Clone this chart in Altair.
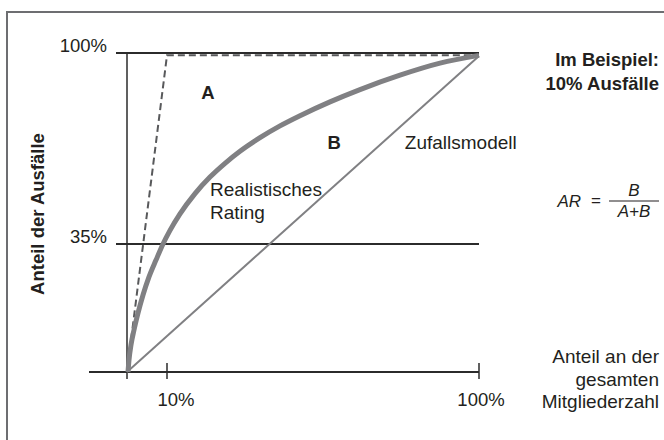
import altair as alt
import pandas as pd

# ---- data ----
curve_x = [0.25, 0.5, 1.0, 1.75, 2.75, 4.0, 5.5, 7.25, 9.0, 10.87, 13.75, 18.08, 22.4, 26.73, 31.06,
           36.83, 42.6, 48.37, 57.02, 65.67, 77.21, 88.75, 100.0]
curve_y = [0.0, 3.3, 7.4, 11.5, 16.1, 21.05, 26.0, 30.6, 35.0, 39.63, 45.24, 52.15, 57.77, 62.46, 66.55,
           71.18, 75.19, 78.66, 83.36, 87.54, 92.44, 96.53, 99.18]
perfect_x = [0, 10, 100]
perfect_y = [0, 99.2, 99.2]
random_x = [0, 100]
random_y = [0, 99]
ref_levels = [35, 100]
ref_labels = ["35%", "100%"]
x_ticks = [10, 100]
x_tick_labels = ["10%", "100%"]

FONT = "Liberation Sans"
TXT = "#231f20"

xs = alt.Scale(domain=[0, 10, 100], range=[127, 167, 479], zero=False, nice=False)
ys = alt.Scale(domain=[0, 35, 100], range=[372, 244, 53], zero=False, nice=False)

one = pd.DataFrame({"a": [0]})
curve_df = pd.DataFrame({"x": curve_x, "y": curve_y})
perfect_df = pd.DataFrame({"x": perfect_x, "y": perfect_y})
random_df = pd.DataFrame({"x": random_x, "y": random_y})
ref_df = pd.DataFrame({"level": ref_levels, "label": ref_labels})
tick_df = pd.DataFrame({"t": x_ticks, "label": x_tick_labels})


def X(f):
    return alt.X(f, type="quantitative", scale=xs, axis=None)


def Y(f):
    return alt.Y(f, type="quantitative", scale=ys, axis=None)


def XD(v):
    return alt.XDatum(v, type="quantitative", scale=xs, axis=None)


def YD(v):
    return alt.YDatum(v, type="quantitative", scale=ys, axis=None)


frame = alt.Chart(one).mark_rect(fill="transparent", stroke="#6d6e71", strokeWidth=2).encode(
    x=alt.value(7), x2=alt.value(720), y=alt.value(12), y2=alt.value(520)
)

ref_rules = alt.Chart(ref_df).mark_rule(color="#2b2b2b", strokeWidth=2).encode(
    y=Y("level"), x=XD(100), x2=alt.value(116)
)
ref_text = alt.Chart(ref_df).mark_text(font=FONT, fontSize=18.5, align="right", baseline="middle", dy=-7, color=TXT).encode(
    y=Y("level"), x=alt.value(107), text="label:N"
)

y_axis = alt.Chart(one).mark_rule(color="#2b2b2b", strokeWidth=1.5).encode(
    x=XD(0), y=YD(100), y2=alt.value(379)
)
x_axis = alt.Chart(one).mark_rule(color="#2b2b2b", strokeWidth=2).encode(
    y=YD(0), x=XD(100), x2=alt.value(89)
)
x_tick_rules = alt.Chart(tick_df).mark_rule(color="#2b2b2b", strokeWidth=1.5).encode(
    x=X("t"), y=alt.value(363), y2=alt.value(379)
)
x_tick_text_a = alt.Chart(tick_df.iloc[:1]).mark_text(font=FONT, fontSize=18.5, align="center", baseline="middle", dx=9, color=TXT).encode(
    x=X("t"), y=alt.value(400), text="label:N"
)
x_tick_text_b = alt.Chart(tick_df.iloc[1:]).mark_text(font=FONT, fontSize=18.5, align="center", baseline="middle", dx=2, color=TXT).encode(
    x=X("t"), y=alt.value(400), text="label:N"
)

random_line = alt.Chart(random_df).mark_line(color="#808083", strokeWidth=2).encode(x=X("x"), y=Y("y"))
perfect_line = alt.Chart(perfect_df).mark_line(color="#58595b", strokeWidth=2, strokeDash=[7, 4]).encode(x=X("x"), y=Y("y"))
curve_line = alt.Chart(curve_df).mark_line(color="#808083", strokeWidth=5, interpolate="monotone").encode(x=X("x"), y=Y("y"))


def label(text, xv, yv, align="left", bold=False, size=19, italic=False):
    return alt.Chart(one).mark_text(
        font=FONT, fontSize=size, align=align, baseline="middle", color=TXT,
        fontWeight="bold" if bold else "normal", fontStyle="italic" if italic else "normal",
    ).encode(x=XD(xv), y=YD(yv), text=alt.value(text))


def plabel(text, px, py, align="right", bold=False, size=19, italic=False, angle=0):
    kw = dict(font=FONT, fontSize=size, align=align, baseline="middle", color=TXT,
              fontWeight="bold" if bold else "normal", fontStyle="italic" if italic else "normal")
    if angle:
        kw["angle"] = angle
    return alt.Chart(one).mark_text(**kw).encode(x=alt.value(px), y=alt.value(py), text=alt.value(text))


texts = [
    label("A", 21.8, 86.4, align="center", bold=True, size=18.5),
    label("B", 58.2, 69.4, align="center", bold=True, size=18.5),
    label("Zufallsmodell", 78.6, 69.4),
    label("Realistisches", 22.4, 53.4),
    label("Rating", 22.4, 45.6),
    plabel("Anteil der Ausfälle", 38, 214, align="center", bold=True, size=18.5, angle=270),
    plabel("Im Beispiel:", 659, 60, bold=True, size=18.5),
    plabel("10% Ausfälle", 659, 84, bold=True, size=18.5),
    plabel("AR", 581, 202, italic=True, size=17),
    plabel("=", 601, 201, size=17),
    plabel("B", 634, 191, align="center", italic=True, size=17),
    plabel("A+B", 634, 212, align="center", italic=True, size=17),
    plabel("Anteil an der", 659, 357),
    plabel("gesamten", 659, 380),
    plabel("Mitgliederzahl", 659, 402),
]

frac = alt.Chart(one).mark_rule(color=TXT, strokeWidth=1.2).encode(
    x=alt.value(609), x2=alt.value(659), y=alt.value(201)
)

chart = alt.layer(
    frame, ref_rules, y_axis, x_axis, x_tick_rules, random_line, perfect_line, curve_line,
    ref_text, x_tick_text_a, x_tick_text_b, frac, *texts
).properties(
    width=664, height=440, padding=0, autosize=alt.AutoSizeParams(type="none")
).configure_view(stroke=None)

chart.save("out.html", embed_options={"renderer": "svg", "actions": False})
